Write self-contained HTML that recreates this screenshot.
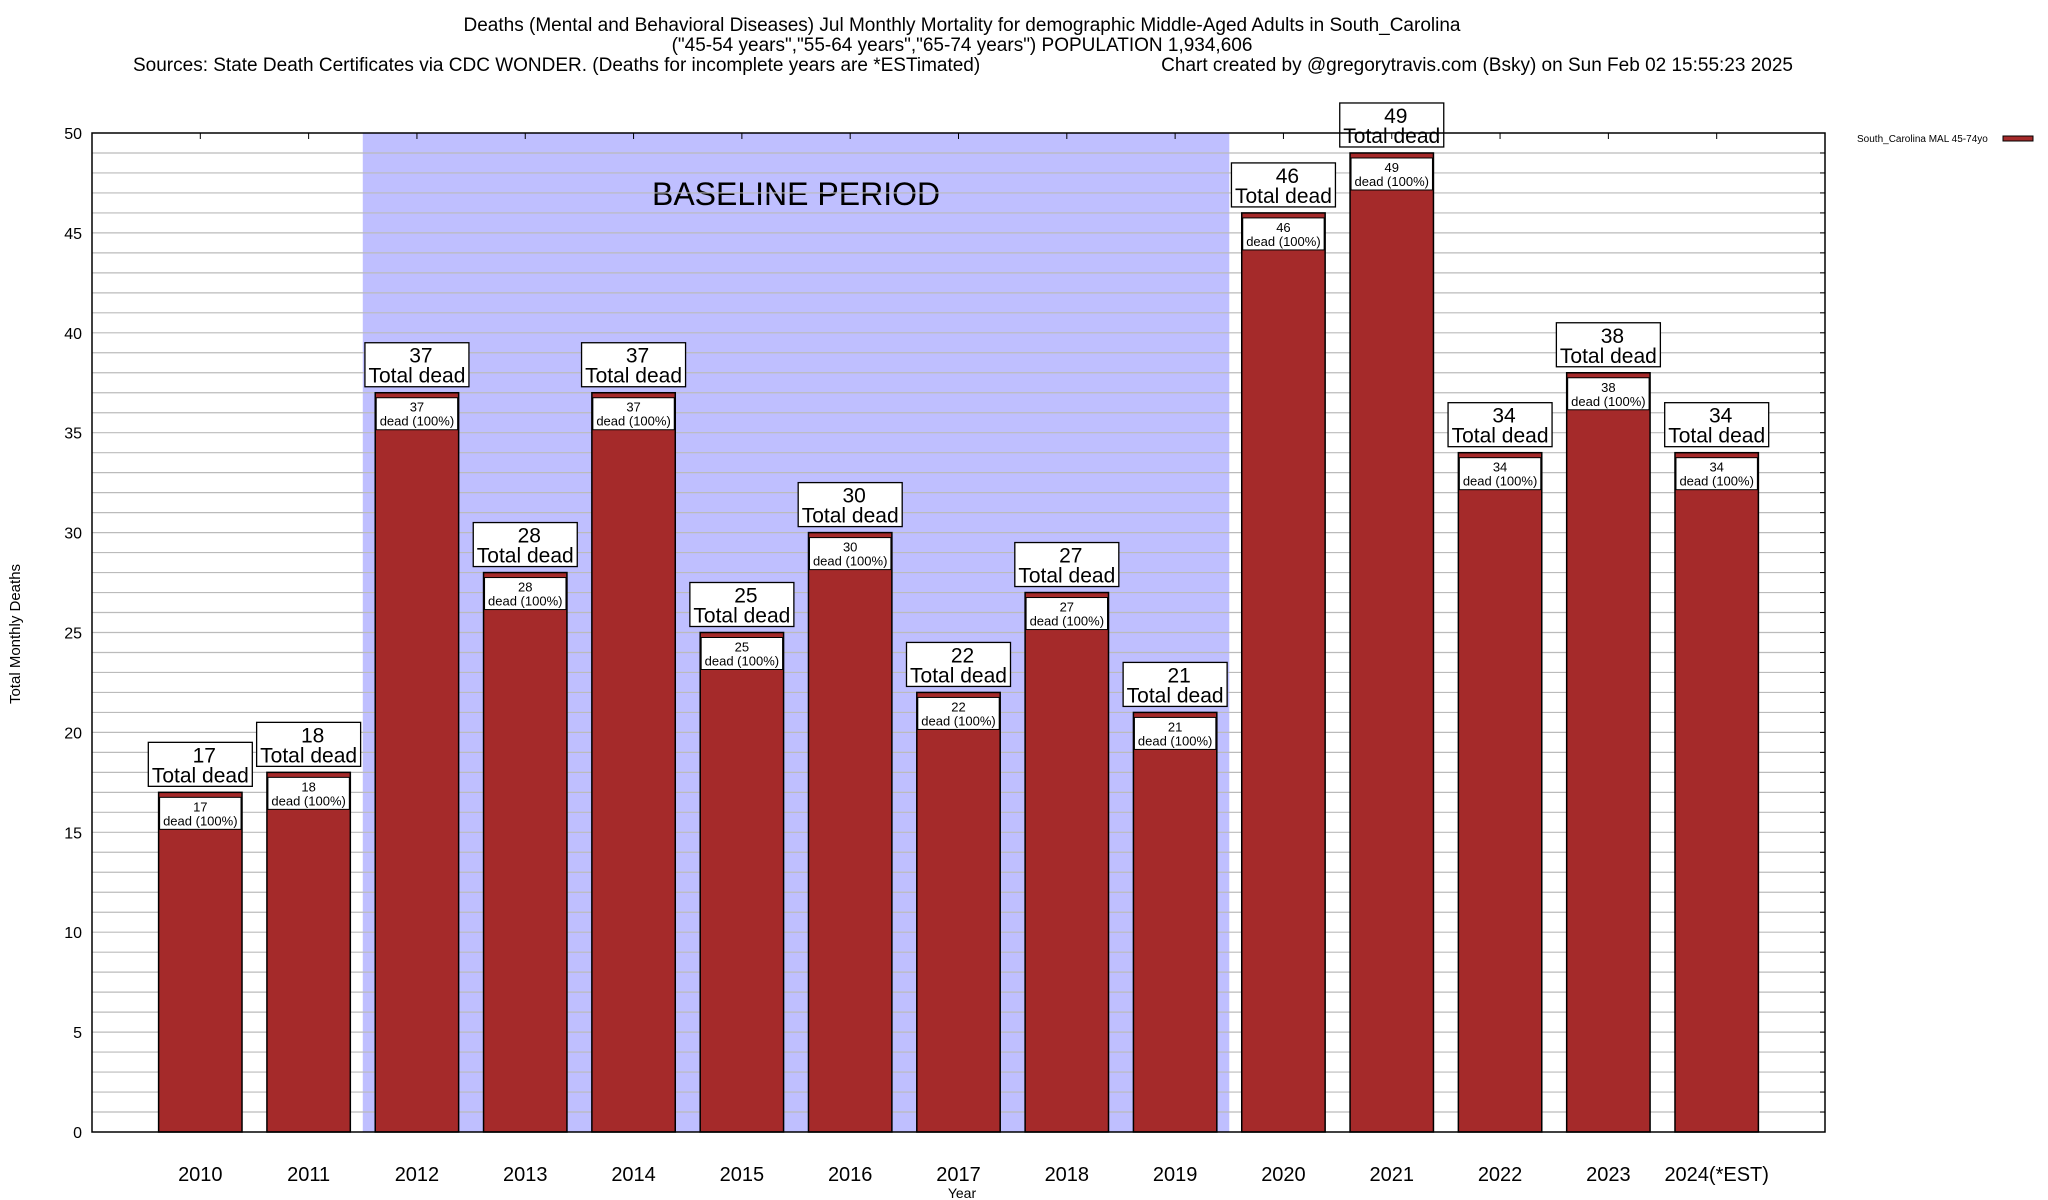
<!DOCTYPE html>
<html><head><meta charset="utf-8"><style>
html,body{margin:0;padding:0;background:#fff}
svg{display:block;font-family:"Liberation Sans",Arial,sans-serif}
</style></head><body>
<svg id="chart" width="2048" height="1200" viewBox="0 0 2048 1200" xmlns="http://www.w3.org/2000/svg">
<g font-size="19" fill="#000">
<text x="962" y="31" text-anchor="middle">Deaths (Mental and Behavioral Diseases) Jul Monthly Mortality for demographic Middle-Aged Adults in South_Carolina</text>
<text x="962" y="51" text-anchor="middle">("45-54 years","55-64 years","65-74 years") POPULATION 1,934,606</text>
<text x="133" y="71">Sources: State Death Certificates via CDC WONDER. (Deaths for incomplete years are *ESTimated)</text>
<text x="1793" y="71" text-anchor="end">Chart created by @gregorytravis.com (Bsky) on Sun Feb 02 15:55:23 2025</text>
</g>
<g id="bg"></g>
<g id="grid"></g>
<g id="bars"></g>
<g id="frame"></g>
<g id="labels"></g>
<g id="axes"></g>
<text x="20" y="634" transform="rotate(-90 20 634)" text-anchor="middle" font-size="15">Total Monthly Deaths</text>
<text x="962" y="1198" text-anchor="middle" font-size="14">Year</text>
<g>
<text x="1857" y="142" font-size="10">South_Carolina MAL 45-74yo</text>
<rect x="2003" y="136" width="30" height="5" fill="#a52a2a" stroke="#000" stroke-width="1"/>
</g>
</svg>
<script>
const categories = ["2010","2011","2012","2013","2014","2015","2016","2017","2018","2019","2020","2021","2022","2023","2024(*EST)"];
const deaths = [17,18,37,28,37,25,30,22,27,21,46,49,34,38,34];
const yTicks = [0,5,10,15,20,25,30,35,40,45,50];
const baselineStart = "2012";
const baselineEnd = "2019";

const NS = "http://www.w3.org/2000/svg";
const L = 92, R = 1825, T = 133, B = 1132, yMax = 50;
const pitch = (R - L) / (categories.length + 1);
const barW = pitch * 0.77;
const xC = i => L + pitch * (i + 1);
const yS = v => B - (v / yMax) * (B - T);
function mk(tag, attrs, parent, txt) {
  const e = document.createElementNS(NS, tag);
  for (const k in attrs) e.setAttribute(k, attrs[k]);
  if (txt !== undefined) e.textContent = txt;
  parent.appendChild(e);
  return e;
}
const bg = document.getElementById('bg'), grid = document.getElementById('grid'),
  bars = document.getElementById('bars'), frame = document.getElementById('frame'),
  labels = document.getElementById('labels'), axes = document.getElementById('axes');

// baseline shading
const i0 = categories.indexOf(baselineStart), i1 = categories.indexOf(baselineEnd);
const sx0 = xC(i0) - pitch / 2, sx1 = xC(i1) + pitch / 2;
let sh = mk('rect', {x: sx0, y: T, width: sx1 - sx0, height: B - T, fill: '#bfbfff'}, bg);


let st = mk('text', {x: (sx0 + sx1) / 2, y: 205, 'text-anchor': 'middle', 'font-size': 32}, bg, 'BASELINE PERIOD');



// gridlines every 1 unit
for (let v = 1; v < yMax; v++) {
  const g = mk('line', {x1: L, x2: R, y1: yS(v), y2: yS(v), stroke: '#bbbbbb', 'stroke-width': 1.2}, grid);
  
  
}

categories.forEach((c, i) => {
  const v = deaths[i], x = xC(i) - barW / 2, y = yS(v);
  const b = mk('rect', {x: x, y: y, width: barW, height: B - y, fill: '#a52a2a', stroke: '#000', 'stroke-width': 1.5}, bars);
  
  
  // inner label
  const ib = mk('rect', {x: x + 1, y: y + 5, width: barW - 2, height: 32, fill: '#fff', stroke: '#000', 'stroke-width': 1}, labels);
  
  
  const t1 = mk('text', {x: xC(i), y: y + 19, 'text-anchor': 'middle', 'font-size': 13}, labels, String(v));
  
  
  const t2 = mk('text', {x: xC(i), y: y + 33, 'text-anchor': 'middle', 'font-size': 13}, labels, 'dead (100%)');
  
  
  // outer label
  const ob = mk('rect', {x: xC(i) - 52, y: y - 50, width: 104, height: 44, fill: '#fff', stroke: '#000', 'stroke-width': 1.3}, labels);
  
  
  const o1 = mk('text', {x: xC(i) + 4, y: y - 30, 'text-anchor': 'middle', 'font-size': 21}, labels, String(v));
  
  
  const o2 = mk('text', {x: xC(i), y: y - 10, 'text-anchor': 'middle', 'font-size': 21}, labels, 'Total dead');
  
  
  // x tick label
  const xl = mk('text', {x: xC(i), y: 1181, 'text-anchor': 'middle', 'font-size': 20}, axes, c);
  
  
  const tt = mk('line', {x1: xC(i), x2: xC(i), y1: T, y2: T + 6, stroke: '#000', 'stroke-width': 1}, axes);
  
  
});

// frame drawn on top of boxes
const fr = mk('rect', {x: L, y: T, width: R - L, height: B - T, fill: 'none', stroke: '#000', 'stroke-width': 1.5}, frame);


labels.parentNode.insertBefore(frame, axes);

for (let v = 1; v < yMax; v++) {
  const a = mk('line', {x1: R - 5, x2: R, y1: yS(v), y2: yS(v), stroke: '#000', 'stroke-width': 1}, axes);
  
  
}
yTicks.forEach(v => {
  const t = mk('text', {x: 82, y: yS(v) + 6, 'text-anchor': 'end', 'font-size': 16}, axes, String(v));
  
  
});
</script>
</body></html>
